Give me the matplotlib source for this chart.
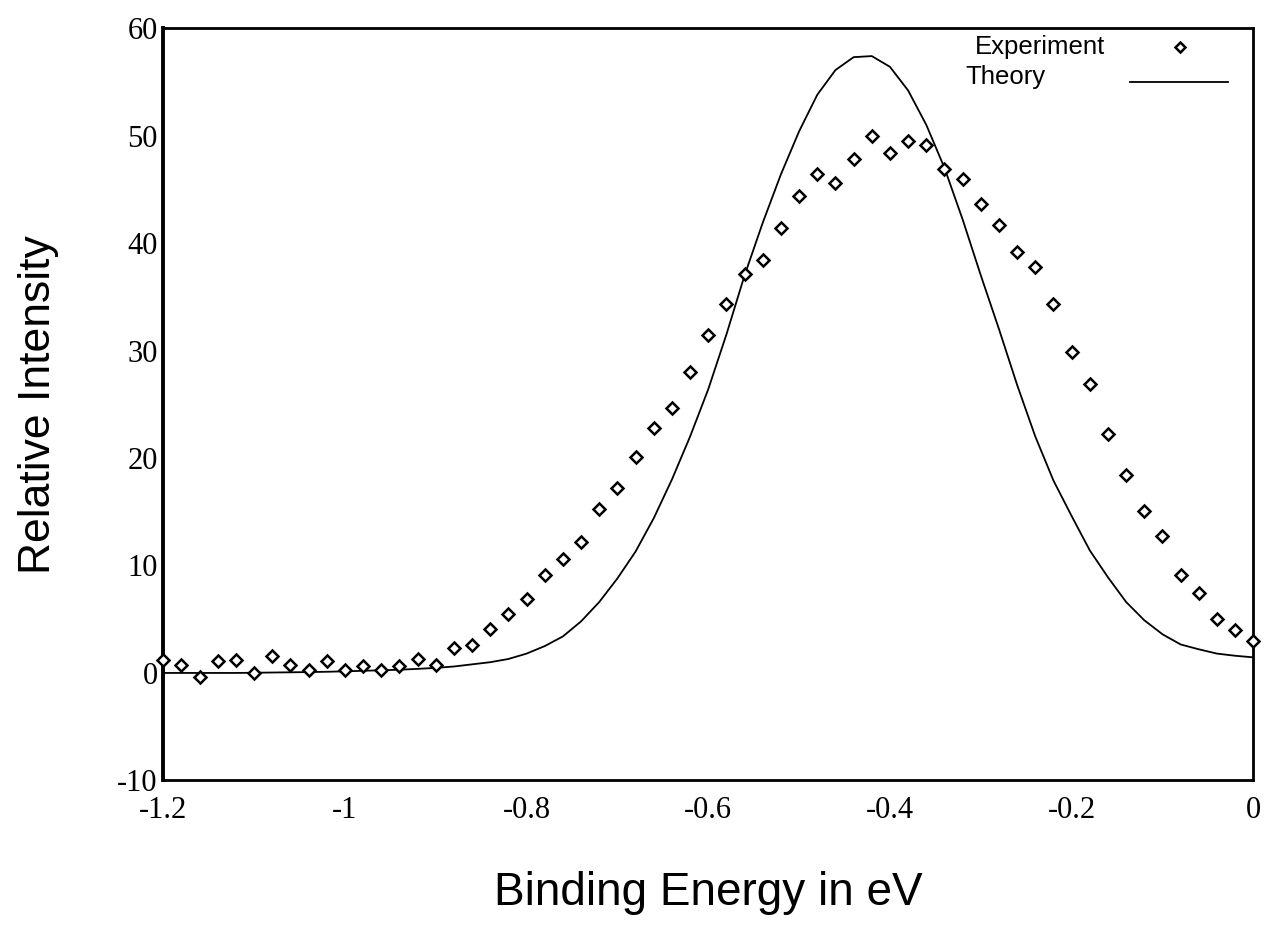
import numpy as np
import matplotlib
matplotlib.use("Agg")
import matplotlib.pyplot as plt

plt.rcParams["axes.unicode_minus"] = False

# binding energy grid (eV), 0.02 steps
energy = np.round(np.arange(-1.2, 0.0001, 0.02), 2)

experiment = [
    1.2, 0.7, -0.4, 1.1, 1.2, 0.0, 1.55, 0.7, 0.3, 1.1,
    0.3, 0.6, 0.3, 0.6, 1.3, 0.7, 2.3, 2.6, 4.1, 5.5,
    6.9, 9.1, 10.6, 12.2, 15.3, 17.2, 20.1, 22.8, 24.7, 28.0,
    31.4, 34.3, 37.1, 38.4, 41.4, 44.4, 46.4, 45.6, 47.8, 50.0,
    48.4, 49.5, 49.1, 46.9, 46.0, 43.6, 41.7, 39.2, 37.8, 34.3,
    29.9, 26.9, 22.2, 18.4, 15.1, 12.7, 9.1, 7.4, 5.05, 4.0,
    3.0,
]

theory = [
    0.0, 0.0, 0.0, 0.0, 0.0, 0.02, 0.04, 0.06, 0.08, 0.11,
    0.15, 0.2, 0.25, 0.3, 0.38, 0.47, 0.6, 0.8, 1.0, 1.3,
    1.8, 2.5, 3.4, 4.8, 6.6, 8.8, 11.3, 14.4, 18.0, 22.0,
    26.4, 31.5, 37.0, 41.9, 46.4, 50.4, 53.8, 56.1, 57.3, 57.4,
    56.4, 54.2, 51.0, 47.0, 42.2, 37.0, 32.0, 26.8, 22.0, 17.9,
    14.6, 11.4, 8.9, 6.6, 4.9, 3.6, 2.65, 2.2, 1.8, 1.6,
    1.45,
]

xticks = [-1.2, -1.0, -0.8, -0.6, -0.4, -0.2, 0.0]
xtick_labels = ["-1.2", "-1", "-0.8", "-0.6", "-0.4", "-0.2", "0"]
yticks = [-10, 0, 10, 20, 30, 40, 50, 60]

fig = plt.figure(figsize=(12.75, 9.38), dpi=100)
ax = fig.add_axes([0.128, 0.168, 0.855, 0.802])

ax.plot(energy, theory, color="black", linewidth=1.3, zorder=2)
ax.plot(energy, experiment, linestyle="none", marker="D", markersize=6.5,
        markerfacecolor="white", markeredgecolor="black", markeredgewidth=1.8,
        clip_on=False, zorder=3)

ax.set_xlim(-1.2, 0.0)
ax.set_ylim(-10, 60)
ax.set_xticks(xticks)
ax.set_xticklabels(xtick_labels)
ax.set_yticks(yticks)
ax.tick_params(length=0, labelsize=22)
ax.tick_params(axis="x", pad=11)
ax.tick_params(axis="y", pad=4)
for lab in ax.get_xticklabels() + ax.get_yticklabels():
    lab.set_family("Liberation Serif")

for side, sp in ax.spines.items():
    sp.set_linewidth(2.0)
ax.spines["left"].set_linewidth(2.8)

ax.set_xlabel("Binding Energy in eV", family="Liberation Sans", fontsize=33, labelpad=33)
ax.set_ylabel("Relative Intensity", family="Liberation Sans", fontsize=32, labelpad=42)

# legend (labels left, keys right, as in the original)
ax.text(0.745, 0.975, "Experiment", transform=ax.transAxes, family="Liberation Sans",
        fontsize=18.5, va="center", ha="left")
ax.text(0.736, 0.935, "Theory", transform=ax.transAxes, family="Liberation Sans",
        fontsize=18.5, va="center", ha="left")
ax.plot([0.933], [0.975], transform=ax.transAxes, linestyle="none", marker="D",
        markersize=5.5, markerfacecolor="white", markeredgecolor="black",
        markeredgewidth=1.8, clip_on=False)
ax.plot([0.887, 0.977], [0.928, 0.928], transform=ax.transAxes, color="black",
        linewidth=1.3, clip_on=False)

fig.savefig("out.png", dpi=100, facecolor="white")
